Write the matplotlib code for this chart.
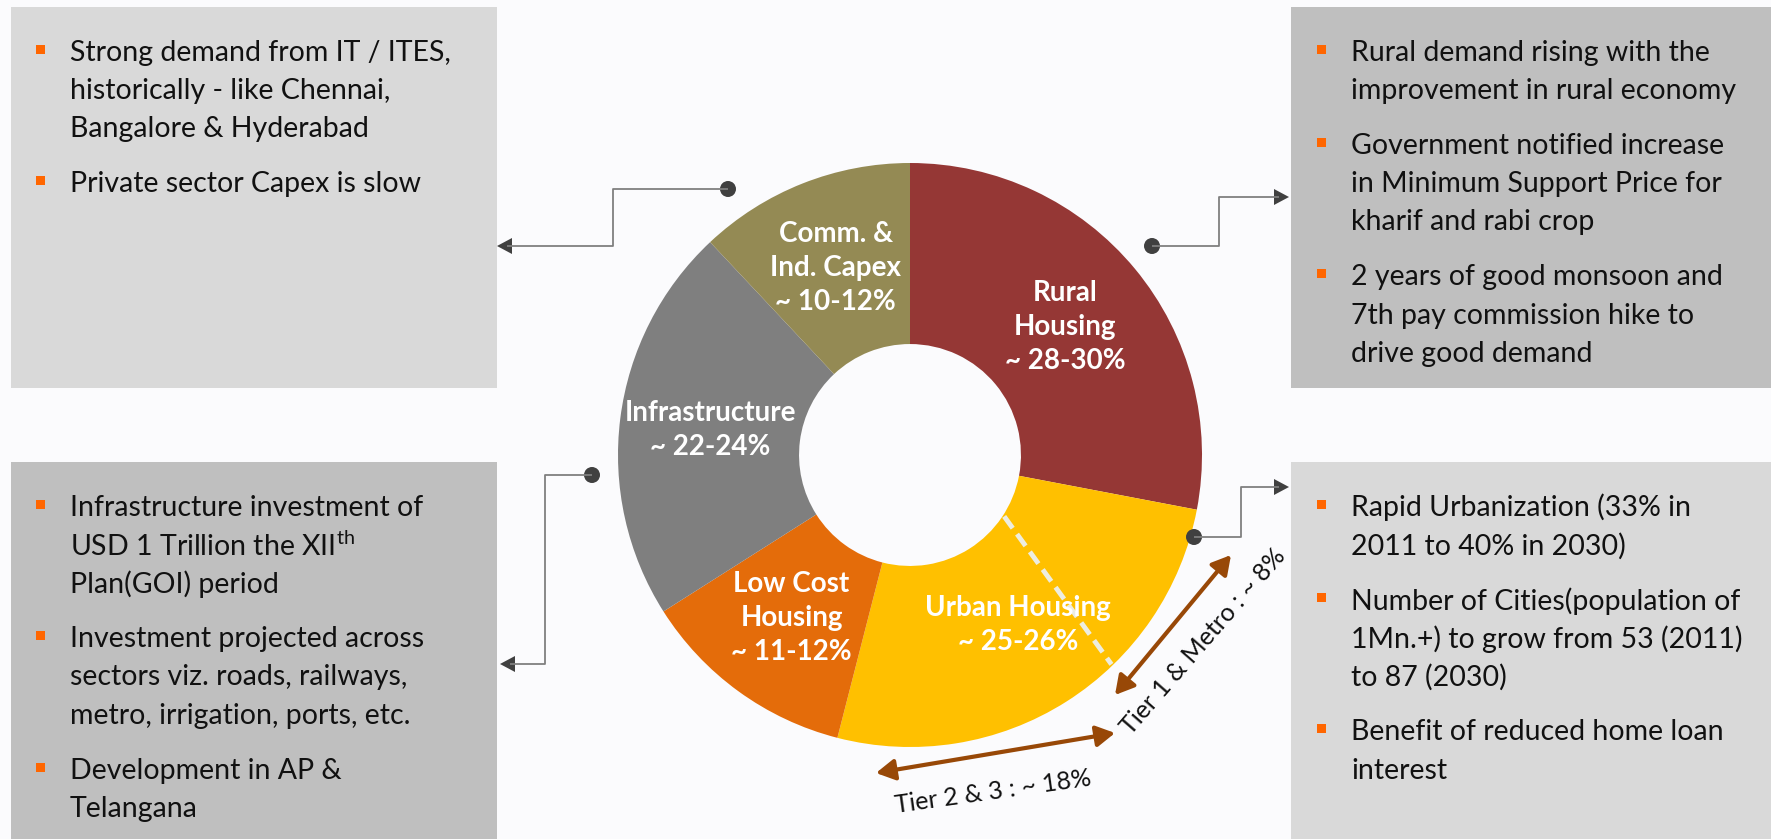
import matplotlib.pyplot as plt
from matplotlib.patches import Rectangle, Polygon, Circle
import numpy as np

plt.rcParams['font.family'] = ['Lato', 'DejaVu Sans']
plt.rcParams['mathtext.fontset'] = 'custom'
plt.rcParams['mathtext.rm'] = 'Lato'

W, H = 1771, 839

# donut data (clockwise from 12 o'clock)
segments = ['Rural\nHousing', 'Urban Housing', 'Low Cost\nHousing', 'Infrastructure', 'Comm. &\nInd. Capex']
ranges = ['~ 28-30%', '~ 25-26%', '~ 11-12%', '~ 22-24%', '~ 10-12%']
shares = [28, 26, 12, 22, 12]
colors = ['#953735', '#FFC000', '#E46C0A', '#7F7F7F', '#948A54']
tier1_share = 8
tier_labels = ['Tier 1 & Metro : ~ 8%', 'Tier 2 & 3 : ~ 18%']

# side notes, one list of lines per bullet
notes_top_left = [['Strong demand from IT / ITES,', 'historically - like Chennai,', 'Bangalore & Hyderabad'],
                  ['Private sector Capex is slow']]
notes_top_right = [['Rural demand rising with the', 'improvement in rural economy'],
                   ['Government notified increase', 'in Minimum Support Price for', 'kharif and rabi crop'],
                   ['2 years of good monsoon and', '7th pay commission hike to', 'drive good demand']]
notes_bottom_left = [['Infrastructure investment of', 'USD 1 Trillion the XII$^{\\mathrm{th}}$', 'Plan(GOI) period'],
                     ['Investment projected across', 'sectors viz. roads, railways,', 'metro, irrigation, ports, etc.'],
                     ['Development in AP &', 'Telangana']]
notes_bottom_right = [['Rapid Urbanization (33% in', '2011 to 40% in 2030)'],
                      ['Number of Cities(population of', '1Mn.+) to grow from 53 (2011)', 'to 87 (2030)'],
                      ['Benefit of reduced home loan', 'interest']]

fig = plt.figure(figsize=(W / 100, H / 100), dpi=100, facecolor='#FBFBFD')

# donut axes, placed in pixels
cx, cy, R = 910, 455, 292
ax_pie = fig.add_axes([(cx - R) / W, (H - cy - R) / H, 2 * R / W, 2 * R / H], zorder=1)
wedges, _ = ax_pie.pie(shares, colors=colors, startangle=90, counterclock=False, radius=1,
                       wedgeprops=dict(width=0.62, linewidth=0))
ax_pie.set_xlim(-1, 1)
ax_pie.set_ylim(-1, 1)
ax_pie.set_aspect('auto')
ax_pie.axis('off')

for w, name, rng in zip(wedges, segments, ranges):
    mid = np.deg2rad((w.theta1 + w.theta2) / 2)
    ax_pie.text(0.69 * np.cos(mid), 0.69 * np.sin(mid), name + '\n' + rng, ha='center', va='center',
                color='white', fontsize=20, fontweight='bold', linespacing=1.38)

# dashed split between tier 1 and tier 2/3 inside urban housing
split = np.deg2rad(90 - 360 * (shares[0] + tier1_share) / sum(shares))
a_in, a_out = split + np.deg2rad(6.5), split - np.deg2rad(6.5)
ax_pie.plot([0.385 * np.cos(a_in), 0.995 * np.cos(a_out)], [0.385 * np.sin(a_in), 0.995 * np.sin(a_out)],
            color='#EDEDE0', lw=3.5, dashes=(3, 1.5))

# overlay axes in pixel coordinates
ax = fig.add_axes([0, 0, 1, 1], zorder=2)
ax.set_xlim(0, W)
ax.set_ylim(H, 0)
ax.patch.set_visible(False)
ax.axis('off')

boxes = [(11, 7, 486, 381, '#D9D9D9', 70, notes_top_left),
         (1291, 7, 480, 381, '#BFBFBF', 1351, notes_top_right),
         (11, 462, 486, 377, '#BFBFBF', 70, notes_bottom_left),
         (1291, 462, 480, 377, '#D9D9D9', 1351, notes_bottom_right)]
for x0, y0, bw, bh, fc, tx, notes in boxes:
    ax.add_patch(Rectangle((x0, y0), bw, bh, facecolor=fc, edgecolor='none'))
    y = y0 + 43
    for para in notes:
        ax.add_patch(Rectangle((tx - 34, y - 5.5), 9, 9, facecolor='#FF6600', edgecolor='none'))
        for line in para:
            ax.text(tx, y, line, ha='left', va='center_baseline', fontsize=20.5, color='#111111')
            y += 38.3
        y += 55 - 38.3

# connectors: dot on the donut, elbow line, arrowhead at the box
connectors = [[(728, 189), (613, 189), (613, 246), (497, 246)],
              [(1152, 246), (1219, 246), (1219, 197), (1289, 197)],
              [(592, 475), (545, 475), (545, 664), (500, 664)],
              [(1194, 537), (1241, 537), (1241, 487), (1289, 487)]]
for path in connectors:
    xs, ys = zip(*path)
    d = np.sign(xs[-1] - xs[-2])
    ax.plot(list(xs[:-1]) + [xs[-1] - d * 10], ys, color='#7F7F7F', lw=1.3, solid_capstyle='butt')
    ax.add_patch(Circle(path[0], 8, facecolor='#404040', edgecolor='none'))
    tipx, tipy = path[-1]
    ax.add_patch(Polygon([(tipx, tipy), (tipx - d * 15, tipy - 8), (tipx - d * 15, tipy + 8)],
                         facecolor='#404040', edgecolor='none'))

# tier arrows and labels
arrows = [((1115, 695), (1231, 555)), ((876, 773), (1115, 733))]
label_pos = [(1203, 641, 49), (993, 792, 8)]
for (p0, p1), (lx, ly, rot), lab in zip(arrows, label_pos, tier_labels):
    ax.annotate('', xy=p1, xytext=p0,
                arrowprops=dict(arrowstyle='<|-|>,head_length=0.8,head_width=0.45', color='#984807',
                                lw=3, mutation_scale=14, shrinkA=0, shrinkB=0))
    ax.text(lx, ly, lab, ha='center', va='center', rotation=rot, rotation_mode='anchor',
            fontsize=18, color='#111111')

fig.savefig('out.png', dpi=100, facecolor=fig.get_facecolor())
